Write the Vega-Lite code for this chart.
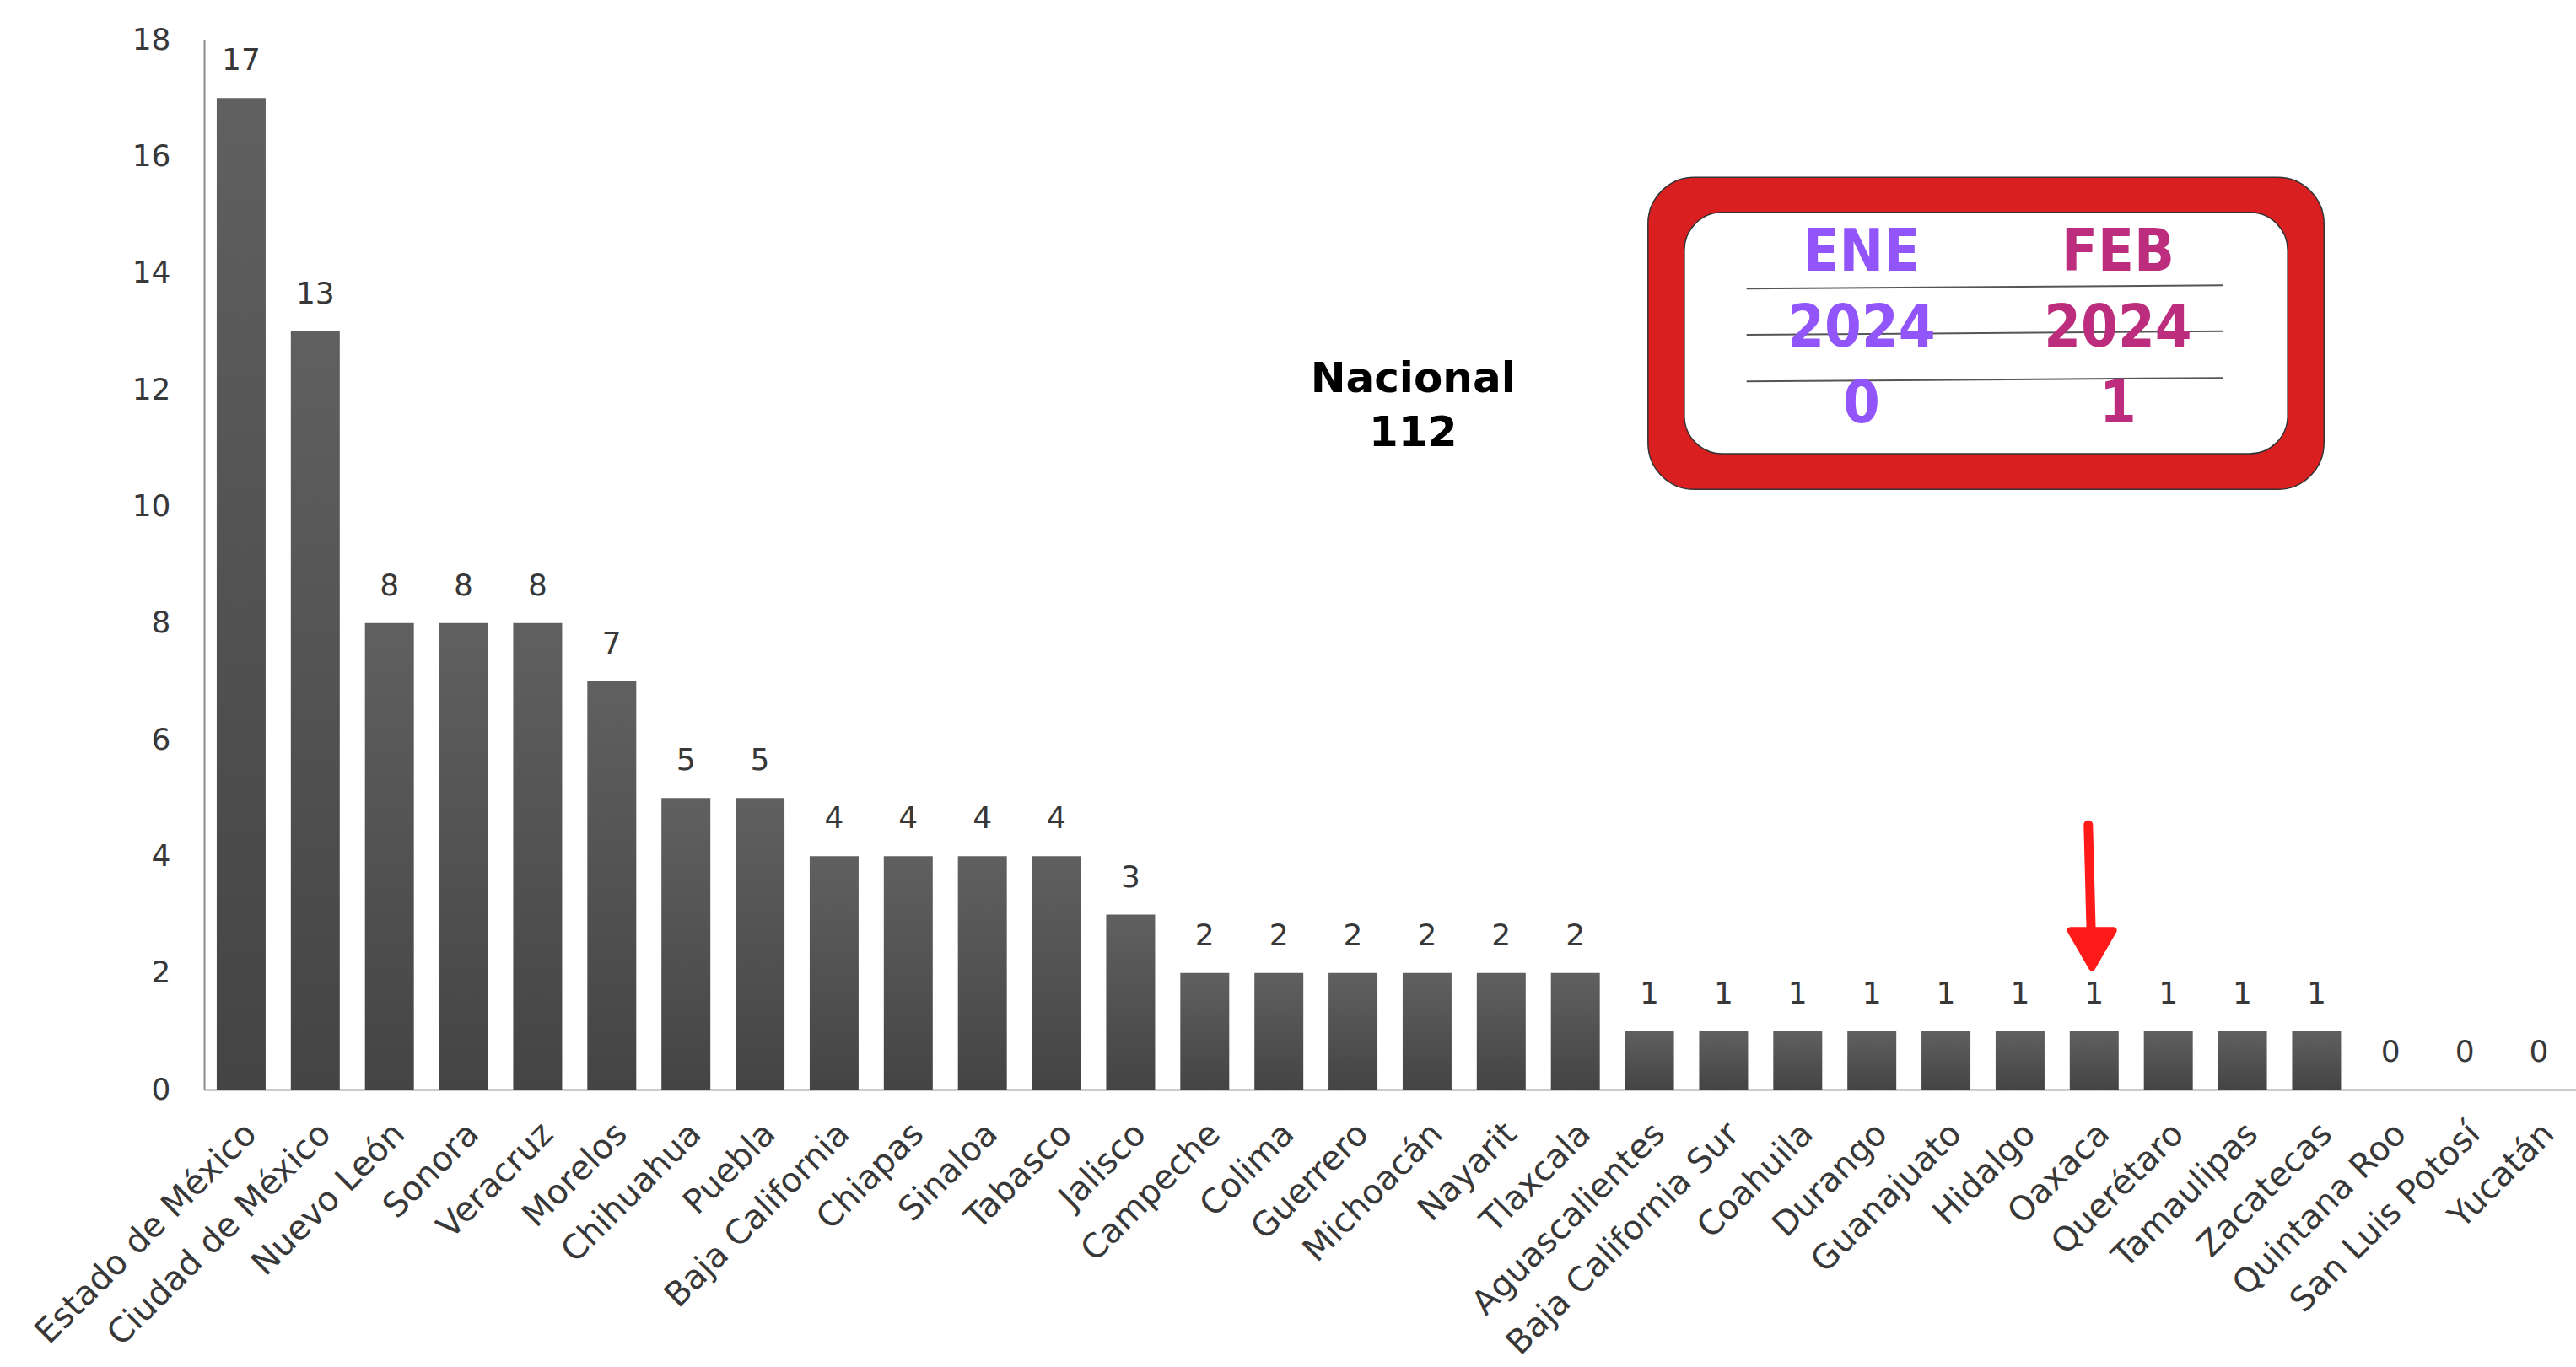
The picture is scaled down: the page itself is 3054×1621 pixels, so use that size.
{
  "$schema": "https://vega.github.io/schema/vega-lite/v6.json",
  "autosize": "none",
  "padding": {"left": 242, "top": 47, "right": 0, "bottom": 329},
  "width": 2812,
  "height": 1245,
  "background": "#ffffff",
  "config": {"view": {"stroke": null}, "font": "DejaVu Sans"},
  "datasets": {
    "estados": [
      {"estado": "Estado de México", "casos": 17},
      {"estado": "Ciudad de México", "casos": 13},
      {"estado": "Nuevo León", "casos": 8},
      {"estado": "Sonora", "casos": 8},
      {"estado": "Veracruz", "casos": 8},
      {"estado": "Morelos", "casos": 7},
      {"estado": "Chihuahua", "casos": 5},
      {"estado": "Puebla", "casos": 5},
      {"estado": "Baja California", "casos": 4},
      {"estado": "Chiapas", "casos": 4},
      {"estado": "Sinaloa", "casos": 4},
      {"estado": "Tabasco", "casos": 4},
      {"estado": "Jalisco", "casos": 3},
      {"estado": "Campeche", "casos": 2},
      {"estado": "Colima", "casos": 2},
      {"estado": "Guerrero", "casos": 2},
      {"estado": "Michoacán", "casos": 2},
      {"estado": "Nayarit", "casos": 2},
      {"estado": "Tlaxcala", "casos": 2},
      {"estado": "Aguascalientes", "casos": 1},
      {"estado": "Baja California Sur", "casos": 1},
      {"estado": "Coahuila", "casos": 1},
      {"estado": "Durango", "casos": 1},
      {"estado": "Guanajuato", "casos": 1},
      {"estado": "Hidalgo", "casos": 1},
      {"estado": "Oaxaca", "casos": 1},
      {"estado": "Querétaro", "casos": 1},
      {"estado": "Tamaulipas", "casos": 1},
      {"estado": "Zacatecas", "casos": 1},
      {"estado": "Quintana Roo", "casos": 0},
      {"estado": "San Luis Potosí", "casos": 0},
      {"estado": "Yucatán", "casos": 0}
    ],
    "marcoExterior": [{"x0": 19.48, "x1": 28.6, "y0": 10.29, "y1": 15.64}],
    "marcoInterior": [{"x0": 19.97, "x1": 28.11, "y0": 10.9, "y1": 15.04}],
    "lineas": [
      {"x0": 20.81, "x1": 27.24, "y0": 13.73, "y1": 13.79},
      {"x0": 20.81, "x1": 27.24, "y0": 12.94, "y1": 13.0},
      {"x0": 20.81, "x1": 27.24, "y0": 12.14, "y1": 12.2}
    ],
    "meses": [
      {"mes": "ENE", "texto": "ENE", "x": 22.36, "y": 14.34},
      {"mes": "ENE", "texto": "2024", "x": 22.36, "y": 13.04},
      {"mes": "ENE", "texto": "0", "x": 22.36, "y": 11.74},
      {"mes": "FEB", "texto": "FEB", "x": 25.82, "y": 14.34},
      {"mes": "FEB", "texto": "2024", "x": 25.82, "y": 13.04},
      {"mes": "FEB", "texto": "1", "x": 25.82, "y": 11.74}
    ],
    "nacional": [
      {"texto": "Nacional", "x": 16.31, "y": 12.17},
      {"texto": "112", "x": 16.31, "y": 11.25}
    ],
    "flecha": [{"x0": 25.42, "y0": 4.54, "x1": 25.46, "y1": 2.63}],
    "punta": [{"x": 25.47, "y": 2.41}]
  },
  "layer": [
    {
      "data": {"name": "estados"},
      "encoding": {
        "x": {
          "field": "estado", "type": "nominal", "sort": null,
          "scale": {"paddingInner": 0.34, "paddingOuter": 0.17},
          "axis": {
            "title": null, "labelAngle": -45, "labelAlign": "right", "labelBaseline": "middle",
            "labelPadding": 46, "labelOffset": 12, "labelFontSize": 40, "labelColor": "#383838",
            "labelLimit": 1000, "labelOverlap": false, "ticks": false,
            "domainColor": "#9a9a9a", "domainWidth": 2, "labelFont": "DejaVu Sans"
          }
        },
        "y": {
          "field": "casos", "type": "quantitative",
          "scale": {"domain": [0, 18], "nice": false},
          "axis": {
            "title": null, "values": [0, 2, 4, 6, 8, 10, 12, 14, 16, 18], "format": "d", "grid": false, "ticks": false,
            "labelPadding": 40, "labelFontSize": 36, "labelColor": "#383838",
            "domainColor": "#8c8c8c", "domainWidth": 2, "labelFont": "DejaVu Sans"
          }
        }
      },
      "layer": [
        {
          "mark": {
            "type": "bar",
            "color": {"gradient": "linear", "x1": 0, "y1": 0, "x2": 0, "y2": 1,
              "stops": [{"offset": 0, "color": "#606060"}, {"offset": 1, "color": "#444444"}]}
          }
        },
        {
          "mark": {"type": "text", "dy": -44, "fontSize": 36, "color": "#383838", "baseline": "middle", "font": "DejaVu Sans"},
          "encoding": {"text": {"field": "casos", "type": "quantitative"}}
        }
      ]
    },
    {
      "layer": [
        {
          "data": {"name": "marcoExterior"},
          "mark": {"type": "rect", "color": "#da1f20", "stroke": "#333333", "strokeWidth": 1.5, "cornerRadius": 55},
          "encoding": {
            "x": {"field": "x0", "type": "quantitative", "scale": {"domain": [0, 32], "nice": false, "zero": false}, "axis": null},
            "x2": {"field": "x1"},
            "y": {"field": "y0", "type": "quantitative"},
            "y2": {"field": "y1"}
          }
        },
        {
          "data": {"name": "marcoInterior"},
          "mark": {"type": "rect", "color": "#ffffff", "stroke": "#333333", "strokeWidth": 1.5, "cornerRadius": 45},
          "encoding": {
            "x": {"field": "x0", "type": "quantitative", "scale": {"domain": [0, 32], "nice": false, "zero": false}, "axis": null},
            "x2": {"field": "x1"},
            "y": {"field": "y0", "type": "quantitative"},
            "y2": {"field": "y1"}
          }
        },
        {
          "data": {"name": "lineas"},
          "mark": {"type": "rule", "color": "#555555", "strokeWidth": 2},
          "encoding": {
            "x": {"field": "x0", "type": "quantitative", "scale": {"domain": [0, 32], "nice": false, "zero": false}, "axis": null},
            "x2": {"field": "x1"},
            "y": {"field": "y0", "type": "quantitative"},
            "y2": {"field": "y1"}
          }
        },
        {
          "data": {"name": "meses"},
          "mark": {"type": "text", "fontSize": 70, "fontWeight": "bold", "font": "DejaVu Sans Condensed, Liberation Sans Narrow, sans-serif", "baseline": "middle", "align": "center"},
          "encoding": {
            "x": {"field": "x", "type": "quantitative", "scale": {"domain": [0, 32], "nice": false, "zero": false}, "axis": null},
            "y": {"field": "y", "type": "quantitative"},
            "text": {"field": "texto"},
            "color": {"field": "mes", "type": "nominal", "scale": {"domain": ["ENE", "FEB"], "range": ["#9155fa", "#bd2d7d"]}, "legend": null}
          }
        },
        {
          "data": {"name": "nacional"},
          "mark": {"type": "text", "fontSize": 50, "fontWeight": "bold", "font": "DejaVu Sans", "color": "#000000", "baseline": "middle", "align": "center"},
          "encoding": {
            "x": {"field": "x", "type": "quantitative", "scale": {"domain": [0, 32], "nice": false, "zero": false}, "axis": null},
            "y": {"field": "y", "type": "quantitative"},
            "text": {"field": "texto"}
          }
        },
        {
          "data": {"name": "flecha"},
          "mark": {"type": "rule", "color": "#ff1a1a", "strokeWidth": 11, "strokeCap": "round"},
          "encoding": {
            "x": {"field": "x0", "type": "quantitative", "scale": {"domain": [0, 32], "nice": false, "zero": false}, "axis": null},
            "x2": {"field": "x1"},
            "y": {"field": "y0", "type": "quantitative"},
            "y2": {"field": "y1"}
          }
        },
        {
          "data": {"name": "punta"},
          "mark": {"type": "point", "shape": "triangle-down", "size": 2600, "filled": true, "color": "#ff1a1a", "stroke": "#ff1a1a", "strokeWidth": 8, "strokeJoin": "round", "opacity": 1},
          "encoding": {
            "x": {"field": "x", "type": "quantitative", "scale": {"domain": [0, 32], "nice": false, "zero": false}, "axis": null},
            "y": {"field": "y", "type": "quantitative"}
          }
        }
      ]
    }
  ],
  "resolve": {"scale": {"x": "independent", "color": "independent"}}
}
